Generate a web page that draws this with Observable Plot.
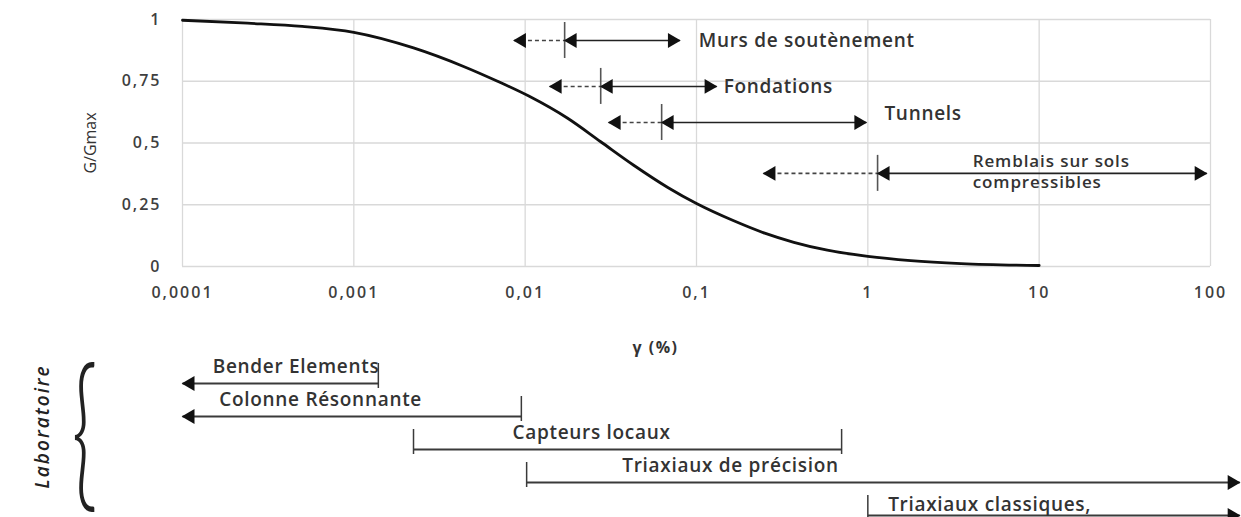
<!DOCTYPE html>
<html><head><meta charset="utf-8">
<script src="https://cdn.jsdelivr.net/npm/d3@7"></script>
<script src="https://cdn.jsdelivr.net/npm/@observablehq/plot@0.6"></script>
<style>
html,body{margin:0;padding:0;background:#fff;overflow:hidden}
#wrap{position:relative;width:1241px;height:517px;overflow:hidden}
#wrap svg{position:absolute;left:0}
g[aria-label="x-axis tick label"] text, g[aria-label="y-axis tick label"] text{letter-spacing:2px}
text[aria-label="ann"]{letter-spacing:0.7px}
text[aria-label="rem"]{letter-spacing:0.9px}
text[aria-label="lab"]{letter-spacing:0.7px}
text[aria-label="xl"]{letter-spacing:1.5px}
text[aria-label="grp"]{letter-spacing:2px}
</style></head><body><div id="wrap"></div>
<script>
// ---- data ----
const gamma = [0.0001, 0.00024, 0.0005, 0.001, 0.00223, 0.00437, 0.0069, 0.0105, 0.0177, 0.0276, 0.043, 0.068, 0.1, 0.165, 0.25, 0.37, 0.58, 1, 1.78, 3.5, 10];
const ratio = [0.997, 0.985, 0.972, 0.948, 0.885, 0.810, 0.750, 0.690, 0.600, 0.505, 0.410, 0.320, 0.255, 0.185, 0.135, 0.098, 0.066, 0.041, 0.024, 0.012, 0.004];
const xTicks = [0.0001, 0.001, 0.01, 0.1, 1, 10, 100];
const xTickLabels = ["0,0001", "0,001", "0,01", "0,1", "1", "10", "100"];
const yTicks = [0, 0.25, 0.5, 0.75, 1];
const yTickLabels = ["0", "0,25", "0,5", "0,75", "1"];
const xLabel = "γ (%)";
const yLabel = "G/Gmax";

const appNames = ["Murs de soutènement", "Fondations", "Tunnels", "Remblais sur sols\ncompressibles"];
const appLevel = [0.915, 0.729, 0.583, 0.377];
const appDashFrom = [0.0086, 0.0139, 0.0307, 0.246];
const appThreshold = [0.017, 0.0276, 0.0626, 1.14];
const appTo = [0.08, 0.131, 0.98, 95];
const appLabelAt = [0.103, 0.144, 1.25, 4.09];

const groupLabel = "Laboratoire";
const labNames = ["Bender Elements", "Colonne Résonnante", "Capteurs locaux", "Triaxiaux de précision", "Triaxiaux classiques,"];
const labFrom = [0.0001, 0.0001, 0.00223, 0.0102, 1];
const labTo = [0.00139, 0.0095, 0.703, 148, 148];
const labOpenLeft = [true, true, false, false, false];
const labOpenRight = [false, false, false, true, true];
const labLabelAt = [0.00046, 0.00064, 0.0244, 0.158, 5.14];

// ---- tables ----
const curveData = gamma.map((g, i) => ({g, r: ratio[i]}));
const apps = appNames.map((name, i) => ({name, level: appLevel[i], from: appDashFrom[i], thr: appThreshold[i], to: appTo[i], at: appLabelAt[i], i}));
const labs = labNames.map((name, i) => ({name, from: labFrom[i], to: labTo[i], at: labLabelAt[i], i}));
const labTicks = [];
labs.forEach((d, i) => {
  if (!labOpenLeft[i]) labTicks.push({name: d.name, g: d.from});
  if (!labOpenRight[i]) labTicks.push({name: d.name, g: d.to});
});
const labLeftHeads = labs.filter((d, i) => labOpenLeft[i]);
const labRightHeads = labs.filter((d, i) => labOpenRight[i]);

const FONT = "'Open Sans', sans-serif";
const W = 1241;
const xScale = {type: "log", domain: [1e-4, 100]};
const HEAD = 5.5, HEADOFF = 7.7;
const tag = s => () => s;

const chartTop = Plot.plot({
  width: W, height: 380,
  marginLeft: 182, marginRight: 31, marginTop: 19, marginBottom: 114,
  style: {background: "transparent", fontFamily: FONT, color: "#3f3f3f", overflow: "visible"},
  x: xScale,
  y: {domain: [0, 1]},
  marks: [
    Plot.gridX(xTicks, {stroke: "#d9d9d9", strokeOpacity: 1, strokeWidth: 1.3}),
    Plot.gridY(yTicks, {stroke: "#d9d9d9", strokeOpacity: 1, strokeWidth: 1.3}),
    Plot.axisX(xTicks, {tickSize: 0, tickPadding: 20, tickFormat: d => xTickLabels[xTicks.indexOf(d)], fontSize: 16, fontWeight: 600, label: null}),
    Plot.axisY(yTicks, {tickSize: 0, tickPadding: 21, tickFormat: d => yTickLabels[yTicks.indexOf(d)], fontSize: 16, fontWeight: 600, label: null}),
    Plot.text([xLabel], {frameAnchor: "bottom", dx: -41, dy: 86, fontSize: 16, fontWeight: 700, fill: "#333", ariaLabel: tag("xl")}),
    Plot.text([yLabel], {frameAnchor: "left", textAnchor: "middle", lineAnchor: "middle", dx: -92, rotate: -90, fontSize: 16, fontWeight: 500, fill: "#333"}),
    Plot.line(curveData, {x: "g", y: "r", curve: "monotone-x", stroke: "#111", strokeWidth: 2.8}),
    // application ranges
    Plot.link(apps, {x1: "from", x2: "thr", y1: "level", y2: "level", stroke: "#444", strokeWidth: 1.6, strokeDasharray: "4,3"}),
    Plot.link(apps, {x1: "thr", x2: "to", y1: "level", y2: "level", stroke: "#222", strokeWidth: 1.6}),
    Plot.ruleX(apps, {x: "thr", y1: "level", y2: "level", insetTop: -18, insetBottom: -18, stroke: "#555", strokeWidth: 1.6}),
    Plot.dot(apps, {x: "from", y: "level", symbol: "triangle", rotate: -90, r: HEAD, fill: "#111", stroke: "none", dx: HEADOFF}),
    Plot.dot(apps, {x: "thr", y: "level", symbol: "triangle", rotate: -90, r: HEAD, fill: "#111", stroke: "none", dx: HEADOFF}),
    Plot.dot(apps, {x: "to", y: "level", symbol: "triangle", rotate: 90, r: HEAD, fill: "#111", stroke: "none", dx: -HEADOFF}),
    Plot.text(apps.filter(d => d.i < 2), {x: "at", y: "level", text: "name", textAnchor: "start", fontSize: 19, fontWeight: 600, fill: "#333", ariaLabel: tag("ann")}),
    Plot.text(apps.filter(d => d.i === 2), {x: "at", y: "level", text: "name", textAnchor: "start", dy: -9, fontSize: 19, fontWeight: 600, fill: "#333", ariaLabel: tag("ann")}),
    Plot.text(apps.filter(d => d.i === 3), {x: "at", y: "level", text: "name", textAnchor: "start", lineAnchor: "middle", lineHeight: 1.25, dy: -3, fontSize: 17, fontWeight: 600, fill: "#333", ariaLabel: tag("rem")})
  ]
});
chartTop.style.top = "0px";

const chartBottom = Plot.plot({
  width: W, height: 177,
  marginLeft: 182, marginRight: 31, marginTop: 41, marginBottom: 1,
  style: {background: "transparent", fontFamily: FONT, color: "#333", overflow: "visible"},
  x: {...xScale, axis: null},
  y: {type: "point", domain: labNames, padding: 0, axis: null},
  marks: [
    Plot.link(labs, {x1: "from", x2: "to", y1: "name", y2: "name", stroke: "#3a3a3a", strokeWidth: 1.8}),
    Plot.ruleX(labTicks, {x: "g", y1: "name", y2: "name", insetTop: -20, insetBottom: -5, stroke: "#3a3a3a", strokeWidth: 1.5}),
    Plot.dot(labLeftHeads, {x: "from", y: "name", symbol: "triangle", rotate: -90, r: HEAD, fill: "#111", stroke: "none", dx: HEADOFF}),
    Plot.dot(labRightHeads, {x: "to", y: "name", symbol: "triangle", rotate: 90, r: HEAD, fill: "#111", stroke: "none", dx: -HEADOFF}),
    Plot.text(labs.filter(d => d.i < 4), {x: "at", y: "name", text: "name", dy: -17, fontSize: 19, fontWeight: 600, fill: "#333", ariaLabel: tag("lab")}),
    Plot.text(labs.filter(d => d.i === 4), {x: "at", y: "name", text: "name", dy: -11, fontSize: 19, fontWeight: 600, fill: "#333", ariaLabel: tag("lab")}),
    Plot.text([groupLabel], {frameAnchor: "top-left", textAnchor: "middle", lineAnchor: "middle", dx: -140, dy: 45, rotate: -90, fontSize: 19, fontWeight: 600, fontStyle: "italic", fill: "#222", ariaLabel: tag("grp")}),
    Plot.text(["{"], {frameAnchor: "top-left", textAnchor: "middle", lineAnchor: "middle", dx: -98, dy: 48, fontSize: 50, fontWeight: 300, fontFamily: "Lato", fill: "#222"})
  ]
});
chartBottom.style.top = "340px";

const wrap = document.getElementById("wrap");
wrap.appendChild(chartTop);
wrap.appendChild(chartBottom);

// stretch the brace glyph vertically around its own centre
const SVGNS = "http://www.w3.org/2000/svg";
Array.from(chartBottom.querySelectorAll("text")).filter(t => t.textContent === "{").forEach(t => {
  const g = document.createElementNS(SVGNS, "g");
  t.parentNode.insertBefore(g, t);
  g.appendChild(t);
  const bb = g.getBBox();
  const cx = bb.x + bb.width / 2, cy = bb.y + bb.height / 2;
  g.setAttribute("transform", `translate(${cx},${cy}) scale(1.8,3.35) translate(${-cx},${-cy})`);
});
</script></body></html>
